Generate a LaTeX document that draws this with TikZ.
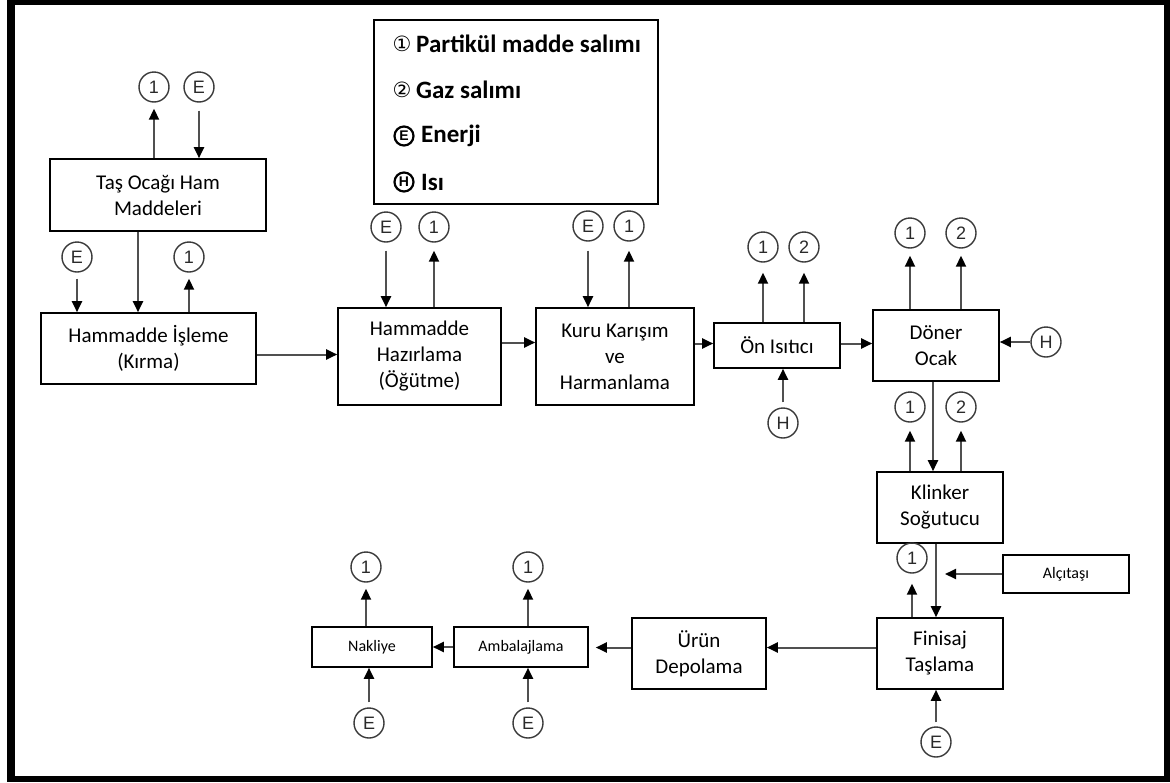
\documentclass[tikz,border=0pt]{standalone}
\usepackage{fontspec}
\setmainfont{Carlito}
\newfontfamily\symfont{DejaVu Sans}
\newfontfamily\circfont{Liberation Sans}
\usetikzlibrary{arrows.meta}
\definecolor{flowgray}{HTML}{505050}
\definecolor{circgray}{HTML}{3A3A3A}
\definecolor{circtext}{HTML}{2A2A2A}
\tikzset{
  box/.style={draw=black, line width=1.6pt, align=center, inner sep=0pt, font=\fontsize{21}{26}\selectfont},
  smallbox/.style={box, font=\fontsize{16}{19}\selectfont},
  flow/.style={draw=flowgray, line width=2pt, -{Triangle[length=11pt,width=10pt,color=black]}},
  emit/.style={circle, draw=circgray, line width=1.4pt, minimum size=30pt, inner sep=0pt, font=\circfont\fontsize{18}{18}\selectfont, text=circtext},
  legtext/.style={anchor=west, inner sep=0pt, font=\bfseries\fontsize{25}{28}\selectfont},
  legglyph/.style={inner sep=0pt, font=\symfont\fontsize{21}{21}\selectfont},
  legcirc/.style={circle, draw=black, line width=2.2pt, minimum size=19pt, inner sep=0pt, font=\circfont\bfseries\fontsize{14}{14}\selectfont},
}
\begin{document}
\begin{tikzpicture}[x=1pt,y=-1pt]
% frame
\useasboundingbox (0,0) rectangle (1170,782);
\fill[black] (7,0) rectangle (1170,782);
\fill[white] (15,5) rectangle (1164,776);

% legend
\node[draw=black, line width=1.6pt, minimum width=284pt, minimum height=184pt, inner sep=0pt] (legend) at (516,112) {};
\node[legglyph] (s1) at (402,44) {①};
\node[legglyph] (s2) at (402,90) {②};
\node[legcirc] (s3) at (404,136) {E};
\node[legcirc] (s4) at (404,182) {H};
\node[legtext] (leg1) at (416,44) {Partikül madde salımı};
\node[legtext] (leg2) at (416,90) {Gaz salımı};
\node[legtext] (leg3) at (421,136) {Enerji};
\node[legtext] (leg4) at (421,182) {Isı};

% boxes
\node[box, minimum width=216pt, minimum height=72pt] (tas) at (158,195) {Taş Ocağı Ham\\Maddeleri};
\node[box, minimum width=215pt, minimum height=71pt] (isleme) at (148.5,348.5) {Hammadde İşleme\\(Kırma)};
\node[box, minimum width=163pt, minimum height=97pt] (hazir) at (419.5,356.5) {Hammadde\\Hazırlama\\(Öğütme)};
\node[box, minimum width=158pt, minimum height=97pt] (kuru) at (615,356.5) {Kuru Karışım\\ve\\Harmanlama};
\node[box, minimum width=126pt, minimum height=45pt] (on) at (777,345.5) {Ön Isıtıcı};
\node[box, minimum width=126pt, minimum height=71pt] (doner) at (936,345.5) {Döner\\Ocak};
\node[box, minimum width=126pt, minimum height=71pt] (klinker) at (940,507.5) {Klinker\\Soğutucu};
\node[box, minimum width=126pt, minimum height=71pt] (finisaj) at (940,653.5) {Finisaj\\Taşlama};
\node[smallbox, minimum width=126pt, minimum height=38pt] (alci) at (1066,574) {Alçıtaşı};
\node[box, minimum width=134pt, minimum height=71pt] (urun) at (699,653.5) {Ürün\\Depolama};
\node[smallbox, minimum width=134pt, minimum height=40pt] (ambal) at (521,647) {Ambalajlama};
\node[smallbox, minimum width=120pt, minimum height=40pt] (nakliye) at (372,647) {Nakliye};

% emission / input circles
\node[emit] (t1) at (154,87) {1};
\node[emit] (tE) at (199,87) {E};
\node[emit] (iE) at (77,257) {E};
\node[emit] (i1) at (189,257) {1};
\node[emit] (hE) at (386,227) {E};
\node[emit] (h1) at (434,227) {1};
\node[emit] (kE) at (588,226) {E};
\node[emit] (k1) at (629,226) {1};
\node[emit] (o1) at (763,247) {1};
\node[emit] (o2) at (804,247) {2};
\node[emit] (oH) at (783,423) {H};
\node[emit] (d1) at (910,233) {1};
\node[emit] (d2) at (961,233) {2};
\node[emit] (dH) at (1046,342) {H};
\node[emit] (c1) at (910,407) {1};
\node[emit] (c2) at (961,407) {2};
\node[emit] (f1) at (912,558) {1};
\node[emit] (fE) at (936,742) {E};
\node[emit] (a1) at (528,567) {1};
\node[emit] (aE) at (528,723) {E};
\node[emit] (n1) at (366,567) {1};
\node[emit] (nE) at (369,723) {E};
\coordinate (alcitip) at (945,574);

% connectors
\draw[flow] (tas.north -| t1) -- ([yshift=-6pt]t1.south);
\draw[flow] ([yshift=-8pt]tE.south) -- (tE |- tas.north);
\draw[flow] ([yshift=-6pt]iE.south) -- (iE |- isleme.north);
\draw[flow] ([xshift=-20pt]tas.south) -- ([xshift=-20pt]tas.south |- isleme.north);
\draw[flow] (isleme.north -| i1) -- ([yshift=-6pt]i1.south);
\draw[flow] ([yshift=-6pt]isleme.east) -- ([yshift=-6pt]isleme.east -| hazir.west);
\draw[flow] ([yshift=-8pt]hE.south) -- (hE |- hazir.north);
\draw[flow] (hazir.north -| h1) -- ([yshift=-8pt]h1.south);
\draw[flow] ([yshift=14pt]hazir.east) -- ([yshift=14pt]hazir.east -| kuru.west);
\draw[flow] ([yshift=-9pt]kE.south) -- (kE |- kuru.north);
\draw[flow] (kuru.north -| k1) -- ([yshift=-9pt]k1.south);
\draw[flow] ([yshift=2pt]kuru.east |- on.west) -- ([yshift=2pt]on.west);
\draw[flow] (on.north -| o1) -- ([yshift=-10pt]o1.south);
\draw[flow] (on.north -| o2) -- ([yshift=-10pt]o2.south);
\draw[flow] ([yshift=5pt]oH.north) -- (oH |- on.south);
\draw[flow] ([yshift=2pt]on.east) -- ([yshift=2pt]on.east -| doner.west);
\draw[flow] (doner.north -| d1) -- ([yshift=-7pt]d1.south);
\draw[flow] (doner.north -| d2) -- ([yshift=-7pt]d2.south);
\draw[flow] (dH.west) -- (dH -| doner.east);
\draw[flow] ([xshift=-3pt]doner.south) -- ([xshift=-3pt]doner.south |- klinker.north);
\draw[flow] (klinker.north -| c1) -- ([yshift=-8pt]c1.south);
\draw[flow] (klinker.north -| c2) -- ([yshift=-8pt]c2.south);
\draw[flow] ([xshift=-4pt]klinker.south) -- ([xshift=-4pt]klinker.south |- finisaj.north);
\draw[flow] (alci.west) -- (alcitip);
\draw[flow] (finisaj.north -| f1) -- ([yshift=-10pt]f1.south);
\draw[flow] ([yshift=4pt]fE.north) -- (fE |- finisaj.south);
\draw[flow] ([yshift=6pt]finisaj.west) -- ([yshift=6pt]finisaj.west -| urun.east);
\draw[flow] ([yshift=6pt]urun.west) -- ([yshift=6pt,xshift=7pt]urun.west -| ambal.east);
\draw[flow] (ambal.west) -- (nakliye.east);
\draw[flow] (ambal.north -| a1) -- ([yshift=-6pt]a1.south);
\draw[flow] ([yshift=5pt]aE.north) -- (aE |- ambal.south);
\draw[flow] (nakliye.north -| n1) -- ([yshift=-6pt]n1.south);
\draw[flow] ([yshift=5pt]nE.north) -- (nE |- nakliye.south);
\end{tikzpicture}
\end{document}
